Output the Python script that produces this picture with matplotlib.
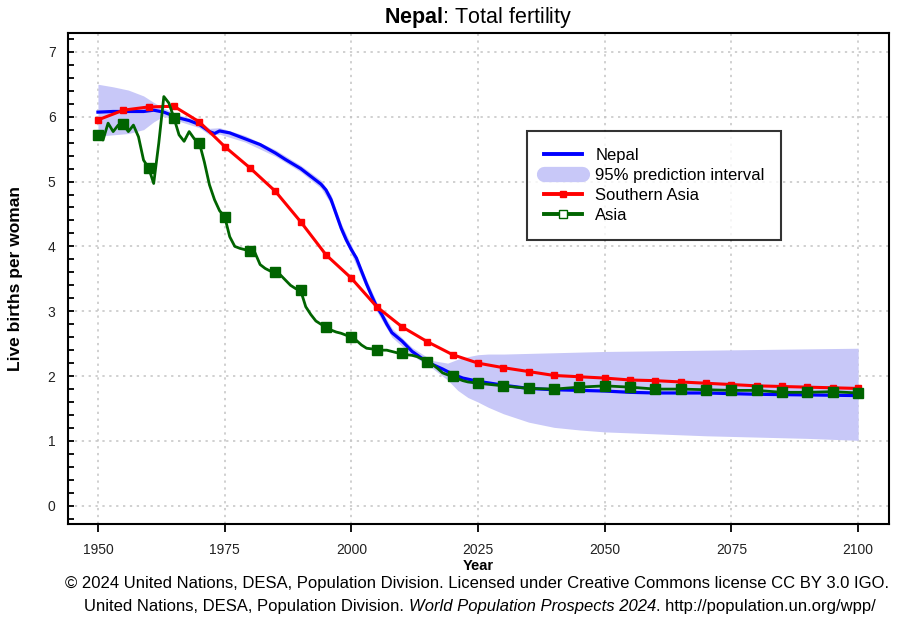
import matplotlib
matplotlib.use("Agg")
import matplotlib.pyplot as plt
from matplotlib.lines import Line2D

plt.rcParams["font.family"] = ["Liberation Sans", "DejaVu Sans"]
plt.rcParams["mathtext.fontset"] = "custom"
plt.rcParams["mathtext.rm"] = "Liberation Sans"
plt.rcParams["mathtext.it"] = "Liberation Sans:italic"
plt.rcParams["mathtext.bf"] = "Liberation Sans:bold"

# Nepal, estimates + median projection
nepal_years = [1950, 1953, 1956, 1959, 1961, 1963, 1966, 1968, 1970, 1972, 1973,
               1974, 1976, 1979, 1982, 1985, 1987, 1990, 1992, 1994, 1995, 1996,
               1997, 1998, 1999, 2000, 2001, 2002, 2003, 2004, 2005, 2006, 2007,
               2008, 2010, 2012, 2014, 2016, 2018, 2020, 2022, 2025, 2030, 2035,
               2040, 2045, 2050, 2055, 2060, 2070, 2080, 2090, 2100]
nepal_tfr = [6.07, 6.08, 6.08, 6.08, 6.10, 6.07, 5.98, 5.94, 5.88, 5.77, 5.74,
             5.78, 5.75, 5.66, 5.57, 5.44, 5.34, 5.20, 5.08, 4.96, 4.87, 4.72,
             4.50, 4.28, 4.10, 3.95, 3.82, 3.62, 3.42, 3.24, 3.07, 2.95, 2.80,
             2.67, 2.54, 2.38, 2.27, 2.18, 2.11, 2.03, 1.97, 1.92, 1.86, 1.81,
             1.79, 1.78, 1.77, 1.75, 1.74, 1.74, 1.72, 1.71, 1.70]

# 95% prediction interval
pi_years = [1950, 1953, 1956, 1959, 1961, 1963, 1966, 1970, 1972, 1974, 1979,
            1985, 1990, 1994, 1996, 1998, 2000, 2003, 2005, 2008, 2012, 2016,
            2019, 2021, 2023, 2025, 2027, 2030, 2035, 2040, 2045, 2050, 2060,
            2070, 2080, 2090, 2100]
pi_low = [5.70, 5.72, 5.74, 5.80, 5.92, 6.01, 5.93, 5.83, 5.72, 5.73, 5.61,
          5.39, 5.15, 4.90, 4.65, 4.21, 3.88, 3.35, 3.00, 2.60, 2.32, 2.12,
          1.94, 1.78, 1.67, 1.60, 1.52, 1.42, 1.29, 1.21, 1.17, 1.14, 1.11,
          1.08, 1.06, 1.04, 1.01]
pi_high = [6.50, 6.46, 6.41, 6.32, 6.22, 6.13, 6.03, 5.93, 5.82, 5.83, 5.71,
           5.49, 5.25, 5.02, 4.79, 4.35, 4.02, 3.49, 3.14, 2.74, 2.44, 2.24,
           2.20, 2.26, 2.30, 2.33, 2.34, 2.34, 2.35, 2.36, 2.37, 2.38, 2.39,
           2.40, 2.41, 2.42, 2.43]

# Southern Asia
sa_years = list(range(1950, 2101, 5))
sa_tfr = [5.95, 6.10, 6.15, 6.16, 5.92, 5.54, 5.21, 4.85, 4.38, 3.87, 3.51,
          3.07, 2.76, 2.53, 2.33, 2.20, 2.13, 2.07, 2.01, 1.99, 1.97, 1.94,
          1.93, 1.91, 1.89, 1.87, 1.85, 1.84, 1.83, 1.82, 1.81]

# Asia
asia_years = list(range(1950, 2024)) + list(range(2025, 2101, 5))
asia_tfr = [5.72, 5.64, 5.90, 5.77, 5.87, 5.88, 5.77, 5.87, 5.69, 5.33,
            5.21, 4.97, 5.59, 6.31, 6.21, 5.98, 5.72, 5.62, 5.77, 5.66,
            5.60, 5.30, 4.95, 4.72, 4.55, 4.46, 4.15, 4.00, 3.97, 3.95,
            3.93, 3.90, 3.72, 3.66, 3.62, 3.61, 3.56, 3.48, 3.40, 3.35,
            3.32, 3.07, 2.95, 2.85, 2.80, 2.76, 2.71, 2.68, 2.66, 2.63,
            2.61, 2.55, 2.48, 2.43, 2.42, 2.41, 2.40, 2.40, 2.38, 2.36,
            2.35, 2.33, 2.32, 2.30, 2.26, 2.22, 2.18, 2.12, 2.05, 2.02,
            2.00, 1.96, 1.93, 1.91,
            1.89, 1.85, 1.81, 1.80, 1.83, 1.85, 1.83, 1.80, 1.80, 1.79,
            1.78, 1.78, 1.75, 1.75, 1.76, 1.74]

BLUE = "#0000ff"
BAND = "#c8c8f8"
RED = "#ff0000"
GREEN = "#006400"

fig = plt.figure(figsize=(9.06, 6.25), dpi=100)
ax = fig.add_axes([0.0751, 0.1616, 0.9062, 0.7856])

ax.fill_between(pi_years, pi_low, pi_high, color=BAND, lw=0, zorder=1)
ax.plot(nepal_years, nepal_tfr, color=BLUE, lw=2.3, zorder=3)
ax.plot(sa_years, sa_tfr, color=RED, lw=2.2, marker="s", ms=4.5, zorder=4)
asia_marks = [i for i, y in enumerate(asia_years) if y % 5 == 0]
ax.plot(asia_years, asia_tfr, color=GREEN, lw=2.0, marker="s", ms=6.5,
        markevery=asia_marks, zorder=5)

ax.set_xlim(1944.1, 2106.1)
ax.set_ylim(-0.28, 7.29)
ax.set_xticks(range(1950, 2101, 25))
ax.set_yticks(range(0, 8))
ax.set_yticks([i * 0.2 for i in range(-1, 37)], minor=True)
ax.tick_params(axis="y", which="both", direction="in", length=4, width=1.3,
               pad=9, labelsize=10, labelcolor="#222222")
ax.tick_params(axis="x", which="major", direction="out", length=6, width=1.3,
               pad=8, labelsize=10, labelcolor="#222222")
ax.grid(True, which="major", color="#c4c4c4", ls=(0, (1.5, 3)), lw=1.1)
ax.set_axisbelow(True)
for s in ax.spines.values():
    s.set_linewidth(1.5)

ax.set_xlabel("Year", fontsize=10.5, fontweight="bold", labelpad=1)
ax.set_ylabel("Live births per woman", fontsize=12.5, fontweight="bold",
              labelpad=18)
ax.set_title(r"$\bf{Nepal}$: Total fertility", fontsize=15.5, pad=7)

handles = [
    Line2D([], [], color=BLUE, lw=2.8),
    Line2D([], [], color=BAND, lw=11, solid_capstyle="round"),
    Line2D([], [], color=RED, lw=2.8, marker="s", ms=4.5),
    Line2D([], [], color=GREEN, lw=2.8, marker="s", ms=6, mfc="white"),
]
labels = ["Nepal", "95% prediction interval", "Southern Asia", "Asia"]
leg = ax.legend(handles, labels, loc="upper left", bbox_to_anchor=(0.559, 0.80),
                fontsize=12, frameon=True, fancybox=False, edgecolor="black",
                handlelength=2.3, handletextpad=0.8, labelspacing=0.3,
                borderpad=1.0, borderaxespad=0)
leg.get_frame().set_linewidth(1.5)
leg._legend_box.align = "left"
leg._legend_handle_box.sep = 0

fig.text(0.526, 0.067,
         "© 2024 United Nations, DESA, Population Division. Licensed under "
         "Creative Commons license CC BY 3.0 IGO.",
         ha="center", va="center", fontsize=12)

# second footer line with an italic middle part, laid out piece by piece
pieces = [("United Nations, DESA, Population Division. ", "normal"),
          ("World Population Prospects 2024", "italic"),
          (". http://population.un.org/wpp/", "normal")]
renderer = fig.canvas.get_renderer()
texts = [fig.text(0, 0.030, s, style=st, ha="left", va="center", fontsize=12)
         for s, st in pieces]
widths = [t.get_window_extent(renderer).width for t in texts]
fig_w = fig.get_figwidth() * fig.dpi
x = 480 - sum(widths) / 2
for t, w in zip(texts, widths):
    t.set_x(x / fig_w)
    x += w

fig.savefig("out.png", dpi=100)
